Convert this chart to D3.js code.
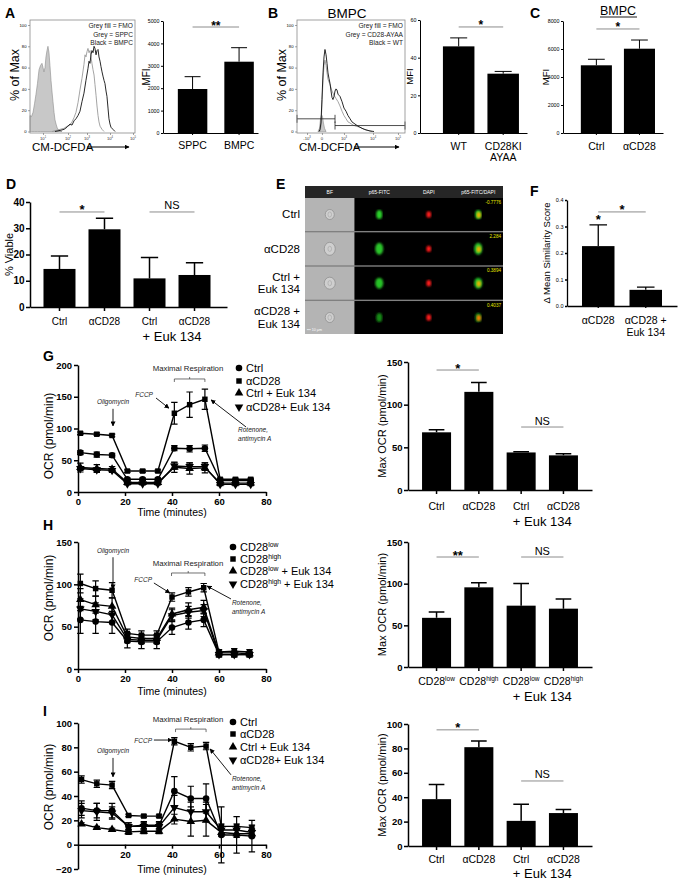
<!DOCTYPE html>
<html>
<head>
<meta charset="utf-8">
<script src="https://cdn.jsdelivr.net/npm/d3@7"></script>
<style>
  body { margin: 0; background: #fff; }
</style>
</head>
<body>
<script>
const FONT = "'Liberation Sans', Arial, Helvetica, sans-serif"

// ---------- data: A (flow histogram + MFI) ----------
const histTicksA = [12.4, 36.2, 54.3, 76.2, 98.1]
const histTickLabA = ['10^1', '10^2', '10^3', '10^4', '10^5']
const fmoA = [[0,15],[1.4,14],[2.9,18],[4.3,26],[5.7,35],[7.1,45],[8.6,58],[10,62],[11.4,64],[12.4,60],[13.3,56],[14.3,60],[15.2,70],[16.2,76],[17.1,80],[18.1,74],[19,62],[20,48],[21,37],[21.9,28],[22.9,18],[23.8,11],[24.8,7],[25.7,4],[26.7,2],[28.6,0.5],[30.5,0]]
const sppcA = [[21,0],[24.8,1],[28.6,2],[32.4,3],[35.2,5],[38.1,6],[40,9],[41.9,13],[43.8,18],[45.7,27],[47.6,39],[49.5,50],[51.4,63],[52.4,72],[53.3,70],[54.3,75],[55.2,78],[56.2,74],[57.1,76],[58.1,70],[59,64],[60,58],[61,53],[61.9,44],[62.9,34],[63.8,24],[64.8,15],[65.7,9],[66.7,5],[68.6,2],[70.5,0]]
const bmpcA = [[23.8,0],[28.6,1],[32.4,2],[35.2,4],[38.1,7],[40,6],[41.9,10],[43.8,12],[45.7,15],[47.6,19],[49.5,28],[51.4,36],[53.3,48],[55.2,59],[56.2,66],[57.1,64],[58.1,72],[59,76],[60,74],[61,80],[61.9,78],[62.9,72],[63.8,76],[64.8,77],[65.7,70],[66.7,66],[67.6,61],[68.6,56],[69.5,52],[70.5,48],[71.4,45],[72.4,38],[73.3,33],[74.3,22],[75.2,12],[76.2,7],[77.1,4],[79,2],[81,0]]
const legendA = ['Grey fill = FMO', 'Grey = SPPC', 'Black = BMPC']
const catsA = ['SPPC', 'BMPC']
const mfiA = [1964, 3183]
const semA = [550, 625]

// ---------- B ----------
const histTicksB = [9.3, 23.1, 43.5, 70.4, 93.5]
const histTickLabB = ['-10^3', '0', '10^3', '10^4', '10^5']
const fmoB = [[19.4,0],[20.8,3],[21.8,12],[22.7,16],[23.6,14],[24.5,8],[25.5,3],[26.9,0]]
const wtB = [[20.4,0],[21.3,2],[22.2,8],[23.1,30],[24.1,55],[25,70],[25.9,77],[26.9,72],[27.8,64],[28.7,55],[29.6,50],[30.6,45],[31.5,38],[32.4,32],[33.3,30],[34.3,33],[35.2,38],[36.1,40],[37,39],[38,35],[38.9,34],[39.8,33],[41.7,28],[43.5,22],[45.4,19],[47.2,15],[49.1,12],[50.9,9],[53.7,7],[56.5,5],[60.2,3],[63.9,1.5],[67.6,0.5],[71.3,0]]
const ayaaB = [[21.3,0],[22.2,5],[23.1,25],[24.1,48],[25,62],[25.9,67],[26.9,62],[27.8,55],[28.7,49],[30.6,44],[32.4,38],[34.3,34],[36.1,31],[38,28],[39.8,24],[41.7,19],[43.5,15],[45.4,12],[47.2,9],[49.1,8],[51.9,6],[54.6,5],[58.3,4],[62,2],[65.7,1],[69.4,0]]
const gatesB = [[0, 35.2, 11.9], [35.2, 100, 5.6]]
const legendB = ['Grey fill = FMO', 'Grey = CD28-AYAA', 'Black = WT']
const catsB = ['WT', 'CD28KI\nAYAA']
const mfiB = [46, 31.5]
const semB = [4.5, 1.2]

// ---------- C ----------
const catsC = ['Ctrl', 'αCD28']
const mfiC = [4836, 6021]
const semC = [430, 620]

// ---------- D ----------
const catsD = ['Ctrl', 'αCD28', 'Ctrl ', 'αCD28 ']
const viableD = [14.5, 29.6, 10.9, 12.2]
const semD = [4.9, 4.2, 8.0, 4.7]

// ---------- E ----------
const colsE = ['BF', 'p65-FITC', 'DAPI', 'p65-FITC/DAPI']
const rowsE = ['Ctrl', 'αCD28', 'Ctrl +\nEuk 134', 'αCD28 +\nEuk 134']
const scoresE = ['-0.7776', '2.284', '0.3894', '0.4037']

// ---------- F ----------
const catsF = ['αCD28', 'αCD28 +\nEuk 134']
const simF = [0.226, 0.061]
const semF = [0.08, 0.01]

// ---------- G ----------
const timeG = [1, 8, 14.5, 21, 27.5, 34, 41, 47.5, 54, 60.5, 67, 73.5]
const ctrlG = [62, 59, 58, 20, 20, 20, 69, 68, 69, 18, 18, 18]
const ctrlGe = [3, 4, 3, 2, 2, 2, 4, 5, 5, 2, 2, 2]
const acd28G = [92.5, 91, 89, 33, 33, 33, 124, 137.5, 146, 20, 20, 20]
const acd28Ge = [2, 2, 2, 2, 2, 2, 17, 20, 16, 2, 2, 2]
const ctrlEukG = [38.5, 37, 36, 15, 15, 15, 39, 37, 38, 14, 14, 14]
const ctrlEukGe = [7, 6, 4, 3, 3, 3, 8, 9, 8, 2, 2, 2]
const acd28EukG = [37, 35, 34, 13, 13, 13, 41, 40, 40, 12, 12, 12]
const acd28EukGe = [3, 3, 3, 2, 2, 2, 5, 6, 6, 2, 2, 2]
const legendG = ['Ctrl', 'αCD28', 'Ctrl + Euk 134', 'αCD28+ Euk 134']
const catsOCR = ['Ctrl', 'αCD28', 'Ctrl ', 'αCD28 ']
const maxG = [67.6, 115, 44, 40.6]
const maxGe = [3, 11, 0.8, 1.9]

// ---------- H ----------
const timeH = [1, 7.5, 14.5, 21, 27, 33.5, 40, 47, 53.5, 60, 66.5, 73]
const lowH = [58, 56, 55, 33, 32, 32, 49, 55, 58, 17, 17, 17]
const lowHe = [16, 14, 13, 8, 8, 8, 8, 8, 8, 3, 3, 3]
const highH = [101, 95, 93, 42, 40, 40, 85, 91, 96, 20, 21, 20]
const highHe = [11, 9, 9, 5, 5, 5, 5, 5, 5, 3, 3, 3]
const lowEukH = [82, 76, 74, 38, 36, 36, 65, 70, 73, 19, 19, 18]
const lowEukHe = [13, 10, 10, 5, 5, 5, 7, 8, 8, 2, 2, 2]
const highEukH = [71, 68, 64, 35, 34, 34, 63, 67, 69, 17, 17, 17]
const highEukHe = [12, 10, 9, 4, 4, 4, 7, 7, 7, 2, 2, 2]
const legendH = ['CD28^low', 'CD28^high', 'CD28^low + Euk 134', 'CD28^high + Euk 134']
const catsH = ['CD28^low', 'CD28^high', 'CD28^low ', 'CD28^high ']
const maxH = [59, 95.6, 73.6, 70]
const maxHe = [7, 5.5, 26.5, 11.5]

// ---------- I ----------
const timeI = [1.5, 8, 14.5, 21.5, 28, 34.5, 41, 48, 54.5, 61, 67.5, 74]
const ctrlI = [30, 28, 28, 15, 16, 16, 44, 38, 38, 8, 8, 7]
const ctrlIe = [6, 6, 6, 3, 3, 3, 12, 10, 12, 23, 15, 13]
const acd28I = [53.5, 50, 49, 24, 23.5, 23.5, 85, 80, 81, 15, 15, 14]
const acd28Ie = [3, 3, 3, 1, 1, 1, 3, 3, 3, 2, 2, 2]
const ctrlEukI = [17, 14, 12.5, 10.5, 11, 11, 21, 19, 20, 10, 9, 9]
const ctrlEukIe = [1, 1, 1, 2, 2, 2, 4, 12, 13, 3, 3, 3]
const acd28EukI = [28, 27, 26, 15, 15, 15, 30.5, 27, 27, 12, 12, 10]
const acd28EukIe = [6, 7, 5, 3, 3, 3, 10, 8, 8, 3, 3, 3]
const maxI = [38.4, 81, 20.6, 27]
const maxIe = [12, 5, 13.7, 3]

// ---------- svg ----------
const svg = d3.select('body').append('svg')
  .attr('width', 682).attr('height', 881)
  .style('font-family', FONT)
svg.append('rect').attr('width', 682).attr('height', 881).attr('fill', '#fff')

const defs = svg.append('defs')
defs.append('marker').attr('id', 'arr').attr('viewBox', '0 0 10 10')
  .attr('refX', 9).attr('refY', 5).attr('markerWidth', 5).attr('markerHeight', 5)
  .attr('markerUnits', 'userSpaceOnUse').attr('orient', 'auto')
  .append('path').attr('d', 'M0,0L10,5L0,10z').attr('fill', '#000')
defs.append('filter').attr('id', 'glow').append('feGaussianBlur').attr('stdDeviation', 0.9)

// superscript helper: 'CD28^low' -> CD28 + raised 'low'
function richText(sel, str, size) {
  const parts = str.split(/\^(\w+)/)
  let shift = 0
  parts.forEach((p, i) => {
    if (p === '') return
    const sup = i % 2 === 1
    const target = sup ? -size * 0.4 : 0
    sel.append('tspan').attr('dy', target - shift)
      .attr('font-size', sup ? size * 0.62 : size).text(p)
    shift = target
  })
}

function panelLetter(t, x, y) {
  svg.append('text').attr('x', x).attr('y', y).attr('font-size', 14)
    .attr('font-weight', 'bold').text(t)
}

function vLabel(text, x, cy, size) {
  svg.append('text').attr('transform', `translate(${x},${cy}) rotate(-90)`)
    .attr('text-anchor', 'middle').attr('font-size', size).text(text)
}

// ---------- flow histogram ----------
function histogram(o) {
  const x = d3.scaleLinear().domain([0, 100]).range([o.x0, o.x1])
  const y = d3.scaleLinear().domain([0, 100]).range([131.5, 25])
  const g = svg.append('g')
  const area = d3.area().x(d => x(d[0])).y0(y(0)).y1(d => y(d[1]))
  const line = d3.line().x(d => x(d[0])).y(d => y(d[1]))
  g.append('path').attr('d', area(o.fmo)).attr('fill', '#c8c8c8')
    .attr('stroke', '#8c8c8c').attr('stroke-width', 0.6)
  g.append('path').attr('d', line(o.grey)).attr('fill', 'none')
    .attr('stroke', '#9a9a9a').attr('stroke-width', 0.9)
  g.append('path').attr('d', line(o.black)).attr('fill', 'none')
    .attr('stroke', '#111').attr('stroke-width', 0.9)
  ;(o.gates || []).forEach(gt => {
    const yy = y(gt[2])
    g.append('path')
      .attr('d', `M${x(gt[0])},${yy}H${x(gt[1])}M${x(gt[0])},${yy - 4}V${yy + 4}M${x(gt[1])},${yy - 4}V${yy + 4}`)
      .attr('stroke', '#222').attr('stroke-width', 0.8).attr('fill', 'none')
  })
  g.append('rect').attr('x', o.x0).attr('y', 20).attr('width', o.x1 - o.x0).attr('height', 113)
    .attr('fill', 'none').attr('stroke', '#8a8a8a').attr('stroke-width', 0.8)

  const ya = g.append('g').attr('transform', `translate(${o.x0},0)`)
    .call(d3.axisLeft(y).tickValues([0, 20, 40, 60, 80, 100]).tickSize(2).tickSizeOuter(0).tickPadding(1.5))
  ya.select('.domain').remove()
  ya.attr('font-family', FONT).attr('font-size', 4.2)
  ya.selectAll('line').attr('stroke', '#666').attr('stroke-width', 0.6)

  const xa = g.append('g').attr('transform', 'translate(0,133)')
    .call(d3.axisBottom(x).tickValues(o.ticks).tickSize(2).tickSizeOuter(0).tickFormat(''))
  xa.select('.domain').remove()
  xa.selectAll('line').attr('stroke', '#666').attr('stroke-width', 0.6)
  o.ticks.forEach((t, i) => {
    const tx = g.append('text').attr('x', x(t)).attr('y', 139.5).attr('text-anchor', 'middle')
      .attr('font-size', 4.2).attr('fill', '#333')
    richText(tx, o.tickLabels[i], 4.2)
  })

  o.legend.forEach((s, i) => {
    g.append('text').attr('x', o.x1 - 2).attr('y', 28 + i * 8.5).attr('text-anchor', 'end')
      .attr('font-size', 6.6).attr('fill', '#222').text(s)
  })

  g.append('text').attr('x', o.x0 + 2).attr('y', 151).attr('font-size', 11.5).text('CM-DCFDA')
  g.append('line').attr('x1', o.x0 + 57).attr('x2', o.x1 - 6).attr('y1', 147).attr('y2', 147)
    .attr('stroke', '#000').attr('stroke-width', 1).attr('marker-end', 'url(#arr)')
  vLabel('% of Max', o.x0 - 11, 75, 12.5)
}

// ---------- bar chart ----------
function barChart(o) {
  const x = d3.scaleBand().domain(o.cats).range(o.xr)
    .paddingInner(o.pi).paddingOuter(o.po).align(o.align)
  const y = d3.scaleLinear().domain(o.ydom).range(o.yr)
  const bw = x.bandwidth()
  const cx = c => x(c) + bw / 2
  const data = o.cats.map((c, i) => ({ c, v: o.values[i], e: o.errs[i] }))
  const lw = o.lw
  const g = svg.append('g')

  g.selectAll('.err').data(data).join('path').attr('class', 'err')
    .attr('d', d => `M${cx(d.c)},${y(d.v)}V${y(d.v + d.e)}M${cx(d.c) - bw * 0.27},${y(d.v + d.e)}H${cx(d.c) + bw * 0.27}`)
    .attr('stroke', '#000').attr('stroke-width', lw).attr('fill', 'none')
  g.selectAll('.bar').data(data).join('rect').attr('class', 'bar')
    .attr('x', d => x(d.c)).attr('width', bw)
    .attr('y', d => y(d.v)).attr('height', d => y(0) - y(d.v))
    .attr('fill', '#000')

  const ya = g.append('g').attr('transform', `translate(${o.xr[0]},0)`)
    .call(d3.axisLeft(y).tickValues(o.yticks).tickFormat(o.fmt || (d => d))
      .tickSize(o.ts).tickSizeOuter(0).tickPadding(1.5))
  const xa = g.append('g').attr('transform', `translate(0,${y(0)})`)
    .call(d3.axisBottom(x).tickSize(o.ts).tickSizeOuter(0).tickFormat(''))
  ;[ya, xa].forEach(a => {
    a.attr('font-family', FONT)
    a.selectAll('path,line').attr('stroke-width', lw)
  })
  ya.attr('font-size', o.tf).attr('font-weight', o.tb ? 'bold' : null)

  data.forEach((d, i) => {
    o.labels[i].split('\n').forEach((ln, k) => {
      const t = g.append('text').attr('x', cx(d.c)).attr('y', o.ly + k * o.lh)
        .attr('text-anchor', 'middle').attr('font-size', o.lf)
      richText(t, ln, o.lf)
    })
  })
  if (o.group) {
    g.append('text').attr('x', (cx(o.cats[2]) + cx(o.cats[3])) / 2).attr('y', o.group.y)
      .attr('text-anchor', 'middle').attr('font-size', o.group.size).text(o.group.text)
  }
  ;(o.sig || []).forEach(s => {
    const xa1 = cx(s.a), xb = cx(s.b), yy = y(s.v)
    if (s.a !== s.b) {
      g.append('line').attr('x1', xa1).attr('x2', xb).attr('y1', yy).attr('y2', yy)
        .attr('stroke', '#8c8c8c').attr('stroke-width', 1)
    }
    const ns = s.t === 'NS'
    g.append('text').attr('x', (xa1 + xb) / 2).attr('y', ns ? yy - 2.5 : yy + 2.5)
      .attr('text-anchor', 'middle').attr('font-size', ns ? o.nsf : o.sf)
      .attr('font-weight', ns ? null : 'bold').text(s.t)
  })
  vLabel(o.ylab, o.ylx, o.ylcy || (o.yr[0] + o.yr[1]) / 2, o.ylf)
}

// ---------- OCR time course ----------
const symbols = {
  circle: d3.symbol(d3.symbolCircle, 34)(),
  square: d3.symbol(d3.symbolSquare, 30)(),
  up: d3.symbol(d3.symbolTriangle, 32)(),
  down: d3.symbol(d3.symbolTriangle, 32)()
}

function lineChart(o) {
  const x = d3.scaleLinear().domain([0, 80]).range([78, 266])
  const y = d3.scaleLinear().domain(o.ydom).range(o.yr)
  const g = svg.append('g')
  const line = d3.line().x(d => x(d.t)).y(d => y(d.v))

  o.series.forEach(s => {
    const pts = o.times.map((t, i) => ({ t, v: s.values[i], e: s.errs[i] }))
    g.append('path').attr('d', line(pts)).attr('fill', 'none')
      .attr('stroke', '#000').attr('stroke-width', 1.4)
    g.selectAll(null).data(pts).join('path')
      .attr('d', d => `M${x(d.t)},${y(d.v - d.e)}V${y(d.v + d.e)}M${x(d.t) - 3.2},${y(d.v + d.e)}h6.4M${x(d.t) - 3.2},${y(d.v - d.e)}h6.4`)
      .attr('stroke', '#000').attr('stroke-width', 1.2).attr('fill', 'none')
    g.selectAll(null).data(pts).join('path')
      .attr('d', symbols[s.shape])
      .attr('transform', d => `translate(${x(d.t)},${y(d.v)})${s.shape === 'down' ? ' rotate(180)' : ''}`)
      .attr('fill', '#000')
  })

  const ya = g.append('g').attr('transform', `translate(${x(0)},0)`)
    .call(d3.axisLeft(y).tickValues(o.yticks).tickSize(4).tickSizeOuter(0).tickPadding(2))
  const xa = g.append('g').attr('transform', `translate(0,${y(0)})`)
    .call(d3.axisBottom(x).tickValues(o.xticks).tickSize(4).tickSizeOuter(0).tickPadding(2.5))
  ;[ya, xa].forEach(a => {
    a.attr('font-family', FONT).attr('font-size', 9.5).attr('font-weight', 'bold')
    a.selectAll('path,line').attr('stroke-width', 1.5)
  })

  g.append('text').attr('x', 172).attr('y', o.xlabY).attr('text-anchor', 'middle')
    .attr('font-size', 10.5).text('Time (minutes)')
  vLabel('OCR (pmol/min)', 53, o.ylabCy, 12)

  o.series.forEach((s, i) => {
    const ly = o.legend.y[i]
    g.append('path').attr('d', symbols[s.shape])
      .attr('transform', `translate(${o.legend.x},${ly})${s.shape === 'down' ? ' rotate(180)' : ''}`)
    const t = g.append('text').attr('x', o.legend.x + 7).attr('y', ly + 4).attr('font-size', 11)
    richText(t, s.name, 11)
  })

  o.notes.forEach(n => {
    if (n.type === 'text') {
      g.append('text').attr('x', x(n.t)).attr('y', y(n.v)).attr('text-anchor', n.anchor)
        .attr('font-size', n.italic ? 6.5 : 7.8).attr('font-style', n.italic ? 'italic' : null)
        .attr('fill', '#222').text(n.text)
    } else if (n.type === 'arrow') {
      g.append('line').attr('x1', x(n.t1)).attr('y1', y(n.v1)).attr('x2', x(n.t2)).attr('y2', y(n.v2))
        .attr('stroke', '#000').attr('stroke-width', 0.9).attr('marker-end', 'url(#arr)')
    } else if (n.type === 'bracket') {
      const x1 = x(n.t1), x2 = x(n.t2), yy = y(n.v), xm = (x1 + x2) / 2
      g.append('path').attr('d', `M${x1},${yy + 3}V${yy}H${x2}V${yy + 3}M${xm},${yy}v-2`)
        .attr('stroke', '#333').attr('stroke-width', 0.7).attr('fill', 'none')
    }
  })
}

// ---------- image grid (E) ----------
function drawE() {
  const xc = d3.scaleBand().domain(colsE).range([305, 503])
  const yr = d3.scaleBand().domain(rowsE).range([198, 334]).paddingInner(0.04)
  const cw = xc.bandwidth()
  const g = svg.append('g')
  g.append('rect').attr('x', 305).attr('y', 186).attr('width', 198).attr('height', 12).attr('fill', '#262626')
  colsE.forEach(c => {
    g.append('text').attr('x', xc(c) + cw / 2).attr('y', 194).attr('text-anchor', 'middle')
      .attr('font-size', 5).attr('fill', '#fff').text(c)
  })
  g.append('rect').attr('x', 305).attr('y', 198).attr('width', 198).attr('height', 136).attr('fill', '#808080')
  const gr = [[3, 4.5, '#2bd12b'], [4, 6, '#2bc42b'], [4, 5.5, '#27c227'], [3, 4.5, '#198c19']]
  rowsE.forEach((r, i) => {
    const y0 = yr(r), h = yr.bandwidth(), cy = y0 + h / 2
    g.append('rect').attr('x', xc('BF')).attr('y', y0).attr('width', cw).attr('height', h).attr('fill', '#b4b4b4')
    g.append('rect').attr('x', xc('p65-FITC')).attr('y', y0).attr('width', cw * 3).attr('height', h).attr('fill', '#000')
    const bx = xc('BF') + cw / 2
    g.append('ellipse').attr('cx', bx).attr('cy', cy).attr('rx', gr[i][0] + 1.5).attr('ry', gr[i][1] + 0.5)
      .attr('fill', '#cfcfcf').attr('stroke', '#8a8a8a').attr('stroke-width', 0.7)
    g.append('ellipse').attr('cx', bx).attr('cy', cy).attr('rx', 1.8).attr('ry', 2.6)
      .attr('fill', 'none').attr('stroke', '#9a9a9a').attr('stroke-width', 0.5)
    const gx = xc('p65-FITC') + cw / 2
    g.append('ellipse').attr('cx', gx).attr('cy', cy).attr('rx', gr[i][0]).attr('ry', gr[i][1])
      .attr('fill', gr[i][2]).attr('filter', 'url(#glow)')
    const rx = xc('DAPI') + cw / 2
    g.append('ellipse').attr('cx', rx).attr('cy', cy).attr('rx', 2.4).attr('ry', 3.2)
      .attr('fill', '#ff1a1a').attr('filter', 'url(#glow)')
    const mx = xc('p65-FITC/DAPI') + cw / 2
    g.append('ellipse').attr('cx', mx).attr('cy', cy).attr('rx', gr[i][0]).attr('ry', gr[i][1])
      .attr('fill', gr[i][2]).attr('filter', 'url(#glow)')
    g.append('ellipse').attr('cx', mx + 0.5).attr('cy', cy + 0.5).attr('rx', 2.2).attr('ry', 3)
      .attr('fill', i === 3 ? '#ff7a00' : '#f0b000').attr('filter', 'url(#glow)')
    g.append('text').attr('x', 501).attr('y', y0 + 5.5).attr('text-anchor', 'end')
      .attr('font-size', 4.6).attr('fill', '#e8e800').text(scoresE[i])
    const lines = r.split('\n')
    lines.forEach((ln, k) => {
      g.append('text').attr('x', 300).attr('y', cy + 4 + (k - (lines.length - 1) / 2) * 12.5)
        .attr('text-anchor', 'end').attr('font-size', 11.5).text(ln)
    })
  })
  g.append('text').attr('x', 307).attr('y', 331).attr('font-size', 3.6).attr('fill', '#fff').text('▪▪▪ 10 µm')
}

// ---------- draw ----------
panelLetter('A', 5, 18)
panelLetter('B', 268, 18)
panelLetter('C', 530, 18)
panelLetter('D', 6, 189)
panelLetter('E', 276, 189)
panelLetter('F', 530, 196)
panelLetter('G', 43, 361)
panelLetter('H', 43, 530)
svg.append('text').attr('x', 43).attr('y', 716).attr('font-size', 14).attr('font-weight', 'bold').text('I')

histogram({ x0: 30, x1: 135, fmo: fmoA, grey: sppcA, black: bmpcA, ticks: histTicksA, tickLabels: histTickLabA, legend: legendA })
histogram({ x0: 297, x1: 405, fmo: fmoB, grey: ayaaB, black: wtB, gates: gatesB, ticks: histTicksB, tickLabels: histTickLabB, legend: legendB })

svg.append('text').attr('x', 347).attr('y', 18).attr('text-anchor', 'middle').attr('font-size', 13.5).text('BMPC')
svg.append('text').attr('x', 618).attr('y', 15).attr('text-anchor', 'middle').attr('font-size', 12.5).text('BMPC')
svg.append('line').attr('x1', 600).attr('x2', 637).attr('y1', 17).attr('y2', 17).attr('stroke', '#000').attr('stroke-width', 0.9)

const small = { ts: 2, tf: 5.3, tb: false, lw: 1, sf: 12, nsf: 10 }
barChart(Object.assign({}, small, {
  cats: catsA, labels: catsA, values: mfiA, errs: semA,
  xr: [163, 258], pi: 0.366, po: 0.2045, align: 0.78,
  ydom: [0, 5000], yr: [133, 21], yticks: d3.range(0, 5001, 1000),
  ly: 149, lh: 11, lf: 10.5,
  sig: [{ a: 'SPPC', b: 'BMPC', v: 4732, t: '**' }],
  ylab: 'MFI', ylx: 150, ylf: 10
}))
barChart(Object.assign({}, small, {
  cats: catsB, labels: catsB, values: mfiB, errs: semB,
  xr: [420, 527], pi: 0.292, po: 0.348, align: 0.74,
  ydom: [0, 60], yr: [133, 20], yticks: [0, 20, 40, 60],
  ly: 150, lh: 11, lf: 10.5,
  sig: [{ a: 'WT', b: 'CD28KI\nAYAA', v: 56.3, t: '*' }],
  ylab: 'MFI', ylx: 413, ylf: 9.5
}))
barChart(Object.assign({}, small, {
  cats: catsC, labels: catsC, values: mfiC, errs: semC,
  xr: [563, 663], pi: 0.279, po: 0.30, align: 0.69,
  ydom: [0, 8000], yr: [133, 21], yticks: d3.range(0, 8001, 2000),
  ly: 150, lh: 11, lf: 10.5,
  sig: [{ a: 'Ctrl', b: 'αCD28', v: 7430, t: '*' }],
  ylab: 'MFI', ylx: 549, ylf: 9.5
}))
barChart({
  cats: catsD, labels: ['Ctrl', 'αCD28', 'Ctrl', 'αCD28'], values: viableD, errs: semD,
  xr: [30, 227], pi: 0.289, po: 0.333, align: 0.45,
  ydom: [0, 40], yr: [307, 202], yticks: [0, 10, 20, 30, 40],
  ts: 4, tf: 10, tb: true, lw: 1.5, sf: 13, nsf: 11,
  ly: 325, lh: 12, lf: 10,
  group: { text: '+ Euk 134', y: 341, size: 13 },
  sig: [{ a: 'Ctrl', b: 'αCD28', v: 36.2, t: '*' }, { a: 'Ctrl ', b: 'αCD28 ', v: 36.2, t: 'NS' }],
  ylab: '% Viable', ylx: 13, ylf: 11
})
drawE()
barChart({
  cats: catsF, labels: catsF, values: simF, errs: semF,
  xr: [567, 677], pi: 0.316, po: 0.316, align: 0.5,
  ydom: [0, 0.4], yr: [306, 200], yticks: [0, 0.1, 0.2, 0.3, 0.4], fmt: d3.format('.1f'),
  ts: 2, tf: 5.5, tb: false, lw: 1.3, sf: 13, nsf: 10,
  ly: 324, lh: 12, lf: 10.5,
  sig: [{ a: 'αCD28', b: 'αCD28 +\nEuk 134', v: 0.355, t: '*' }, { a: 'αCD28', b: 'αCD28', v: 0.317, t: '*' }],
  ylab: 'Δ Mean Similarity Score', ylx: 550, ylf: 9.5
})

const ocrBars = {
  xr: [408, 592], pi: 0.314, po: 0.332, align: 0.5,
  ts: 4, tf: 9.5, tb: true, lw: 1.5, sf: 13, nsf: 11,
  lh: 12, lf: 10.5, ylab: 'Max OCR (pmol/min)', ylx: 386, ylf: 11
}
barChart(Object.assign({}, ocrBars, {
  cats: catsOCR, labels: ['Ctrl', 'αCD28', 'Ctrl', 'αCD28'], values: maxG, errs: maxGe,
  ydom: [0, 150], yr: [490, 362], yticks: [0, 50, 100, 150],
  ly: 510, group: { text: '+ Euk 134', y: 526, size: 13 },
  sig: [{ a: 'Ctrl', b: 'αCD28', v: 140.6, t: '*' }, { a: 'Ctrl ', b: 'αCD28 ', v: 73.8, t: 'NS' }]
}))
barChart(Object.assign({}, ocrBars, {
  cats: catsH, labels: ['CD28^low', 'CD28^high', 'CD28^low', 'CD28^high'], values: maxH, errs: maxHe,
  ydom: [0, 150], yr: [667, 542], yticks: [0, 50, 100, 150],
  ly: 685, lf: 10.5, group: { text: '+ Euk 134', y: 701, size: 13 },
  sig: [{ a: 'CD28^low', b: 'CD28^high', v: 132, t: '**' }, { a: 'CD28^low ', b: 'CD28^high ', v: 132, t: 'NS' }]
}))
barChart(Object.assign({}, ocrBars, {
  cats: catsOCR, labels: ['Ctrl', 'αCD28', 'Ctrl', 'αCD28'], values: maxI, errs: maxIe,
  ydom: [0, 100], yr: [846, 724], yticks: [0, 20, 40, 60, 80, 100],
  ly: 863, group: { text: '+ Euk 134', y: 878, size: 13 },
  sig: [{ a: 'Ctrl', b: 'αCD28', v: 95.2, t: '*' }, { a: 'Ctrl ', b: 'αCD28 ', v: 53.3, t: 'NS' }]
}))

lineChart({
  times: timeG, ydom: [0, 200], yr: [492, 365], yticks: [0, 50, 100, 150, 200], xticks: [0, 20, 40, 60, 80],
  xlabY: 516, ylabCy: 436,
  series: [
    { name: legendG[0], shape: 'circle', values: ctrlG, errs: ctrlGe },
    { name: legendG[1], shape: 'square', values: acd28G, errs: acd28Ge },
    { name: legendG[2], shape: 'up', values: ctrlEukG, errs: ctrlEukGe },
    { name: legendG[3], shape: 'down', values: acd28EukG, errs: acd28EukGe }
  ],
  legend: { x: 239, y: [368, 381, 393, 407] },
  notes: [
    { type: 'text', t: 46.8, v: 190.5, text: 'Maximal Respiration', anchor: 'middle' },
    { type: 'bracket', t1: 41, t2: 54, v: 178 },
    { type: 'text', t: 14.9, v: 138.6, text: 'Oligomycin', anchor: 'middle', italic: true },
    { type: 'arrow', t1: 14.9, v1: 131, t2: 14.9, v2: 104 },
    { type: 'text', t: 31.9, v: 149.6, text: 'FCCP', anchor: 'end', italic: true },
    { type: 'arrow', t1: 33.2, v1: 148, t2: 38.7, v2: 132 },
    { type: 'text', t: 68.1, v: 94.5, text: 'Rotenone,', anchor: 'start', italic: true },
    { type: 'text', t: 68.1, v: 80.3, text: 'antimycin A', anchor: 'start', italic: true },
    { type: 'arrow', t1: 71.5, v1: 102.4, t2: 56.6, v2: 145 }
  ]
})
lineChart({
  times: timeH, ydom: [0, 150], yr: [669, 542], yticks: [0, 50, 100, 150], xticks: [0, 20, 40, 60, 80],
  xlabY: 695, ylabCy: 598,
  series: [
    { name: legendH[0], shape: 'circle', values: lowH, errs: lowHe },
    { name: legendH[1], shape: 'square', values: highH, errs: highHe },
    { name: legendH[2], shape: 'up', values: lowEukH, errs: lowEukHe },
    { name: legendH[3], shape: 'down', values: highEukH, errs: highEukHe }
  ],
  legend: { x: 233, y: [547, 559, 571, 584] },
  notes: [
    { type: 'text', t: 46.8, v: 121.7, text: 'Maximal Respiration', anchor: 'middle' },
    { type: 'bracket', t1: 39.8, t2: 54, v: 113.4 },
    { type: 'text', t: 14.9, v: 137, text: 'Oligomycin', anchor: 'middle', italic: true },
    { type: 'arrow', t1: 14.9, v1: 132, t2: 14.9, v2: 94.5 },
    { type: 'text', t: 31.5, v: 102.8, text: 'FCCP', anchor: 'end', italic: true },
    { type: 'arrow', t1: 32.3, v1: 101.6, t2: 39.1, v2: 89.8 },
    { type: 'text', t: 65.5, v: 75.6, text: 'Rotenone,', anchor: 'start', italic: true },
    { type: 'text', t: 65.5, v: 65, text: 'antimycin A', anchor: 'start', italic: true },
    { type: 'arrow', t1: 65.1, v1: 82.7, t2: 54.9, v2: 98 }
  ]
})
lineChart({
  times: timeI, ydom: [-20, 100], yr: [869, 723], yticks: d3.range(-20, 101, 20), xticks: [20, 40, 60, 80],
  xlabY: 873, ylabCy: 787,
  series: [
    { name: legendG[0], shape: 'circle', values: ctrlI, errs: ctrlIe },
    { name: legendG[1], shape: 'square', values: acd28I, errs: acd28Ie },
    { name: legendG[2], shape: 'up', values: ctrlEukI, errs: ctrlEukIe },
    { name: legendG[3], shape: 'down', values: acd28EukI, errs: acd28EukIe }
  ],
  legend: { x: 233, y: [722, 734, 747, 760] },
  notes: [
    { type: 'text', t: 46.8, v: 100.8, text: 'Maximal Respiration', anchor: 'middle' },
    { type: 'bracket', t1: 41.5, t2: 54.5, v: 95 },
    { type: 'text', t: 31.5, v: 83.6, text: 'FCCP', anchor: 'end', italic: true },
    { type: 'arrow', t1: 32.3, v1: 86, t2: 40, v2: 86 },
    { type: 'text', t: 14.9, v: 75.4, text: 'Oligomycin', anchor: 'middle', italic: true },
    { type: 'arrow', t1: 14.9, v1: 71.3, t2: 14.9, v2: 55.7 },
    { type: 'text', t: 65.5, v: 52.5, text: 'Rotenone,', anchor: 'start', italic: true },
    { type: 'text', t: 65.5, v: 45, text: 'antimycin A', anchor: 'start', italic: true },
    { type: 'arrow', t1: 65.1, v1: 57.4, t2: 56.2, v2: 78.7 }
  ]
})
</script>
</body>
</html>
